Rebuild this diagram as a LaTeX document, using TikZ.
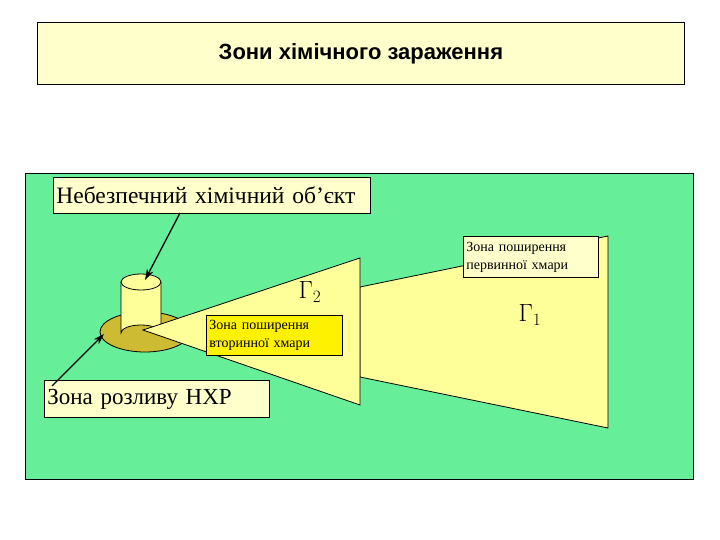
\documentclass[tikz,border=0pt]{standalone}
\usepackage{fontspec}
\setmainfont{Liberation Serif}
\newfontfamily\hsans{Liberation Sans}
\usetikzlibrary{arrows.meta}
\definecolor{pgreen}{RGB}{102,238,153}
\definecolor{lyel}{RGB}{255,255,204}
\definecolor{zyel}{RGB}{255,255,153}
\definecolor{olive}{RGB}{204,187,51}
\tikzset{lbl/.style={draw,fill=lyel,inner sep=3pt},
 zone/.style={draw,fill=zyel,line join=miter},
 arr/.style={-{Stealth[length=11pt,width=7pt]},line width=1.3pt}}
\begin{document}
\begin{tikzpicture}[x=1pt,y=-1pt,line width=0.8pt]
\useasboundingbox (0,0) rectangle (720,540);
\node[draw,fill=lyel,minimum width=647,minimum height=62,anchor=north west,font=\hsans\bfseries\fontsize{22}{26}\selectfont] (title) at (37,22) {Зони хімічного зараження};
\node[draw,fill=pgreen,minimum width=668,minimum height=306,anchor=north west] (panel) at (25,173) {};
\draw[zone] (360,287) -- (608,236) -- (608,428) -- (360,377) -- cycle;
\fill[olive,draw=black] (145,332) ellipse (45 and 20);
\fill[zyel,draw=black] (121,282) -- (121,333) arc (180:360:20 and 8) -- (161,282);
\draw[fill=zyel] (141,282) ellipse (20 and 8);
\draw[zone] (143,330) -- (360,258) -- (360,405) -- cycle;
\node[lbl,text width=311,minimum height=36,anchor=north west,align=left,font=\fontsize{23.5}{26}\selectfont] (obj) at (53,177) {Небезпечний хімічний об\char"0027єкт};
\node[lbl,text width=219,minimum height=37,anchor=north west,align=left,font=\fontsize{23}{26}\selectfont] (spill) at (44,380) {Зона розливу НХР};
\node[lbl,anchor=north west,text width=129,minimum height=41,align=left,font=\fontsize{14}{18}\selectfont] (prim) at (463,236) {Зона поширення\\первинної хмари};
\node[draw,fill=yellow,anchor=north west,inner sep=3pt,text width=130,minimum height=40,align=left,font=\fontsize{14}{18}\selectfont] (sec) at (206,315) {Зона поширення\\вторинної хмари};
\node[font=\fontsize{26}{28}\selectfont] (g2) at (310,292) {$\Gamma_2$};
\node[font=\fontsize{26}{28}\selectfont] (g1) at (530,315) {$\Gamma_1$};
\coordinate (cyl) at (145,280);
\coordinate (pud) at (104,334);
\draw[arr] (180,213) -- (cyl);
\draw[arr] (52,386) -- (pud);
\end{tikzpicture}
\end{document}
